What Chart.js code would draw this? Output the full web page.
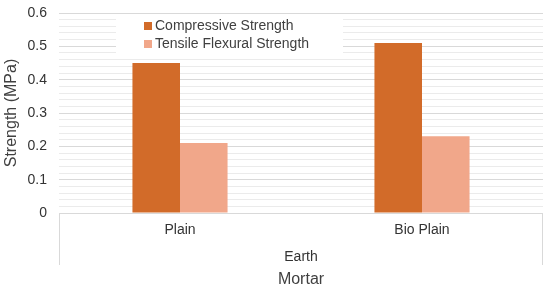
<!DOCTYPE html>
<html>
<head>
<meta charset="utf-8">
<script src="https://cdn.jsdelivr.net/npm/chart.js@4/dist/chart.umd.min.js"></script>
<style>
  html, body { margin: 0; padding: 0; background: #fff; }
  #wrap { width: 550px; height: 290px; }
</style>
</head>
<body>
<div id="wrap"><canvas id="strengthChart" width="550" height="290"></canvas></div>
<script>
var categories = ["Plain", "Bio Plain"];
var groupLabels = ["Earth"];
var compressive = [0.45, 0.51];
var tensileFlexural = [0.21, 0.23];
var seriesNames = ["Compressive Strength", "Tensile Flexural Strength"];

var textColor = "#404040";
var fontFamily = "'Liberation Sans', Arial, sans-serif";

// legend sits inside the plot on a white box, like the Excel original
var insideLegend = {
  id: "insideLegend",
  afterDatasetsDraw: function(chart) {
    var ctx = chart.ctx, area = chart.chartArea;
    var x0 = area.left + 57, y0 = area.top + 3;
    ctx.save();
    ctx.fillStyle = "#fff";
    ctx.fillRect(x0, y0, 227, 41);
    ctx.font = "14px " + fontFamily;
    ctx.textBaseline = "middle";
    chart.data.datasets.forEach(function(ds, i) {
      var cy = y0 + 10 + i * 18;
      ctx.fillStyle = ds.backgroundColor;
      ctx.fillRect(x0 + 28, cy - 4, 8, 8);
      ctx.fillStyle = textColor;
      ctx.fillText(ds.label, x0 + 39, cy);
    });
    ctx.restore();
  }
};

// side lines of the category box under the plot
var axisBox = {
  id: "axisBox",
  afterDraw: function(chart) {
    var ctx = chart.ctx, area = chart.chartArea;
    ctx.save();
    ctx.strokeStyle = "#d9d9d9";
    ctx.lineWidth = 1;
    ctx.beginPath();
    ctx.moveTo(area.left + 0.5, area.bottom);
    ctx.lineTo(area.left + 0.5, area.bottom + 52);
    ctx.moveTo(area.right - 0.5, area.bottom);
    ctx.lineTo(area.right - 0.5, area.bottom + 52);
    ctx.stroke();
    ctx.restore();
  }
};

var chart = new Chart(document.getElementById("strengthChart"), {
  type: "bar",
  data: {
    labels: categories,
    datasets: [
      { label: seriesNames[0], data: compressive, backgroundColor: "#d26b29" },
      { label: seriesNames[1], data: tensileFlexural, backgroundColor: "#f1a78a" }
    ]
  },
  options: {
    responsive: false,
    animation: false,
    events: [],
    categoryPercentage: 0.393,
    barPercentage: 1,
    layout: { padding: { left: 0, right: 7, top: 13, bottom: 0 } },
    plugins: {
      legend: { display: false },
      tooltip: { enabled: false }
    },
    scales: {
      y: {
        min: 0,
        max: 0.6,
        afterFit: function(scale) { scale.width = 59; },
        border: { display: false },
        grid: {
          drawTicks: true,
          tickLength: 12,
          tickColor: "rgba(0,0,0,0)",
          color: function(c) {
            var v = Math.round(c.tick.value * 100);
            return v % 10 === 0 ? "#d9d9d9" : "#ebebeb";
          }
        },
        ticks: {
          stepSize: 0.02,
          maxTicksLimit: 40,
          autoSkip: false,
          padding: 0,
          color: "#333",
          font: { size: 14, family: fontFamily },
          callback: function(v) {
            var r = Math.round(v * 100);
            if (r % 10 !== 0) return "";
            return r === 0 ? "0" : (r / 100).toString();
          }
        },
        title: {
          display: true,
          text: "Strength (MPa)",
          color: textColor,
          font: { size: 16, family: fontFamily },
          padding: { top: 2, bottom: 0 }
        }
      },
      x: {
        weight: 0,
        afterFit: function(scale) { scale.height = 30; },
        border: { display: false },
        grid: { display: false, drawTicks: false },
        ticks: {
          padding: 9,
          color: "#333",
          font: { size: 14, family: fontFamily }
        }
      },
      x2: {
        type: "category",
        position: "bottom",
        weight: 1,
        labels: groupLabels,
        afterFit: function(scale) { scale.height = 47; },
        border: { display: false },
        grid: { display: false, drawTicks: false },
        ticks: {
          padding: 6,
          color: "#333",
          font: { size: 14, family: fontFamily }
        },
        title: {
          display: true,
          text: "Mortar",
          color: textColor,
          font: { size: 16, family: fontFamily },
          padding: { top: 0, bottom: 1 }
        }
      }
    }
  },
  plugins: [insideLegend, axisBox]
});
</script>
</body>
</html>
